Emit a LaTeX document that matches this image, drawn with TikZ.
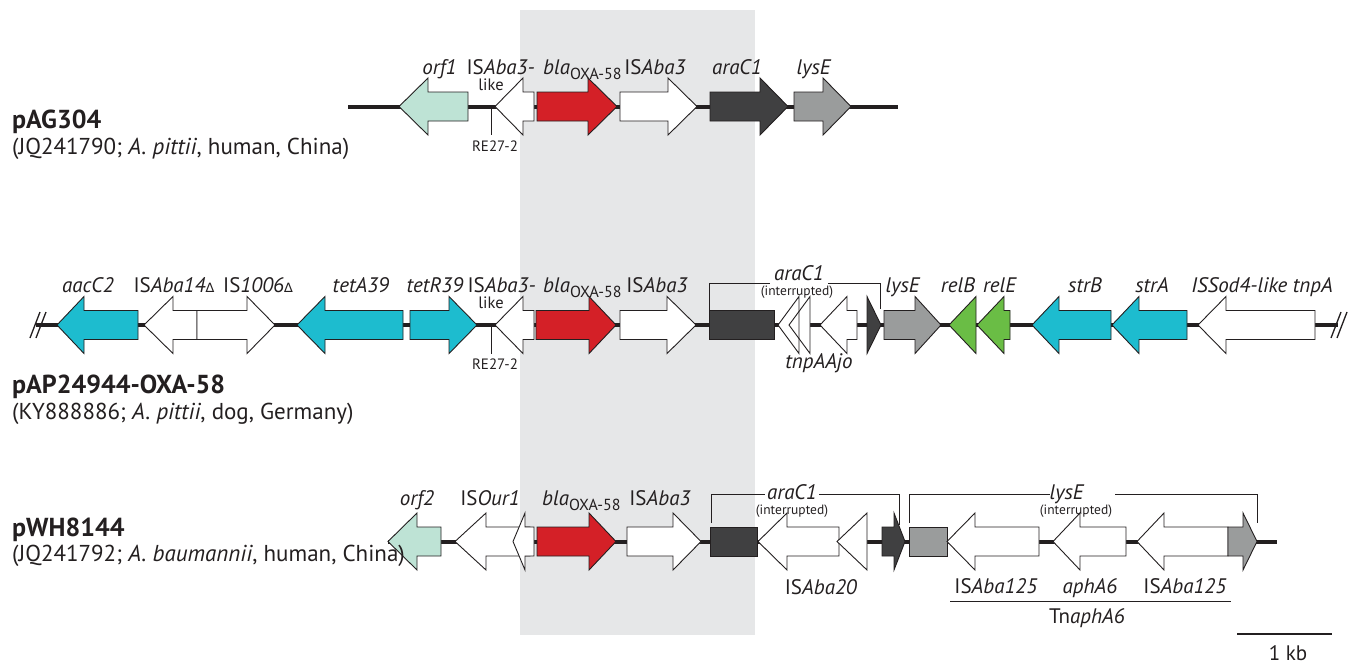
\documentclass[tikz,border=0pt]{standalone}
\usepackage{fontspec}
\setmainfont{PT Sans}
\newfontfamily\deltafont{DejaVu Sans}
\definecolor{ink}{HTML}{231F20}
\definecolor{band}{HTML}{E6E7E8}
\definecolor{mint}{HTML}{BEE3D5}
\definecolor{oxared}{HTML}{D42027}
\definecolor{darkgene}{HTML}{404041}
\definecolor{greygene}{HTML}{9A9C9C}
\definecolor{cyangene}{HTML}{1DBCCF}
\definecolor{greengene}{HTML}{6ABD45}

% gene drawn as a block arrow: fill, tail x, head-base x, tip x, axis y
\newcommand\geneshape[5]{%
  \filldraw[gene, fill=#1] (#2,#5-14.5) -- (#3,#5-14.5) -- (#3,#5-28.5) -- (#4,#5)
    -- (#3,#5+28.5) -- (#3,#5+14.5) -- (#2,#5+14.5) -- cycle;}
% arrow head only: fill, base x, tip x, axis y
\newcommand\headshape[4]{%
  \filldraw[gene, fill=#1] (#2,#4-28.5) -- (#3,#4) -- (#2,#4+28.5) -- cycle;}
% gene fragment without direction: fill, left x, right x, axis y
\newcommand\boxshape[4]{%
  \filldraw[gene, fill=#1] (#2,#4-14.5) rectangle (#3,#4+14.5);}
\newcommand\blaoxa{\textit{bla}\raisebox{-5pt}{\fontsize{16}{18}\selectfont OXA-58}}
\newcommand\dlt{{\deltafont\fontsize{13}{15}\selectfont ∆}}

\tikzset{
  backbone/.style={draw=ink, line width=4pt},
  gene/.style={draw=ink, line width=0.9pt, line join=miter},
  thinline/.style={draw=ink, line width=1pt},
  glab/.style={font=\fontsize{21}{24}\selectfont, text=ink, inner sep=0pt, anchor=base},
  smalllab/.style={font=\fontsize{15}{17}\selectfont, text=ink, inner sep=0pt, anchor=base},
  likelab/.style={font=\fontsize{16.5}{19}\selectfont, text=ink, inner sep=0pt, anchor=base},
  tinylab/.style={font=\fontsize{13.5}{16}\selectfont, text=ink, inner sep=0pt, anchor=base},
  pname/.style={font=\fontsize{26}{30}\selectfont\bfseries, text=ink, inner sep=0pt, anchor=base west},
  pinfo/.style={font=\fontsize{23}{27}\selectfont, text=ink, inner sep=0pt, anchor=base west},
}

\begin{document}
\begin{tikzpicture}[x=1pt, y=-1pt]
\useasboundingbox (0,0) rectangle (1360,664);

% shared blaOXA-58 region
\fill[band] (520,10) rectangle (755,635);

% ---------------- pAG304 ----------------
\draw[backbone] (348,106.5) -- (898,106.5);
\geneshape{mint}{468}{428}{399}{106.5}
\geneshape{white}{534}{523}{495}{106.5}
\geneshape{oxared}{537}{588}{617}{106.5}
\geneshape{white}{620}{668}{697}{106.5}
\geneshape{darkgene}{710}{760}{788}{106.5}
\geneshape{greygene}{794}{823}{851}{106.5}
\draw[thinline] (491,106.5) -- (491,135);

\node[glab] (a1) at (439.5,74) {\textit{orf1}};
\node[glab, anchor=base east] (a2) at (535,74) {IS\textit{Aba3-}};
\node[likelab] (a3) at (491,90) {like};
\node[glab, anchor=base west] (a4) at (543,74) {\blaoxa};
\node[glab] (a5) at (655,74) {IS\textit{Aba3}};
\node[glab] (a6) at (737,74) {\textit{araC1}};
\node[glab] (a7) at (814,74) {\textit{lysE}};
\node[smalllab] (a8) at (495,151) {RE27-2};

\node[pname] (p1) at (12,128) {pAG304};
\node[pinfo] (i1) at (12,154) {(JQ241790; \textit{A. pittii}, human, China)};

% ---------------- pAP24944-OXA-58 ----------------
\draw[backbone] (36,325) -- (1338,325);
\draw[thinline, line width=1.3pt] (30,338) -- (40,312) (36,338) -- (46,312);
\draw[thinline, line width=1.3pt] (1331,338) -- (1341,312) (1337,338) -- (1347,312);
\geneshape{cyangene}{138}{84}{57}{325}
\geneshape{white}{197}{173}{144}{325}
\geneshape{white}{197}{247}{275}{325}
\geneshape{cyangene}{403}{325}{297}{325}
\geneshape{cyangene}{410}{449}{477}{325}
\geneshape{white}{534}{523}{495}{325}
\geneshape{oxared}{536}{589}{616}{325}
\geneshape{white}{620}{667}{696}{325}
\boxshape{darkgene}{709}{774}{325}
\fill[white] (799,296.5) -- (778,325) -- (799,353.5) -- cycle;
\fill[white] (810,296.5) -- (789,325) -- (810,353.5) -- cycle;
\draw[gene] (799,296.5) -- (778,325) -- (799,353.5) -- cycle;
\draw[gene] (810,296.5) -- (789,325) -- (810,353.5) -- cycle;
\geneshape{white}{857}{847}{820}{325}
\headshape{darkgene}{867}{881}{325}
\geneshape{greygene}{884}{915}{941}{325}
\headshape{greengene}{976}{949}{325}
\geneshape{greengene}{1010}{1004}{977}{325}
\geneshape{cyangene}{1111}{1059}{1032}{325}
\geneshape{cyangene}{1187}{1139}{1112}{325}
\geneshape{white}{1315}{1226}{1198}{325}
\draw[thinline] (491,325) -- (491,354);
\draw[thinline] (709,310.5) -- (709,283) -- (770,283);
\draw[thinline] (828,283) -- (880,283) -- (880,309);

\node[glab] (b1) at (88,292) {\textit{aacC2}};
\node[glab] (b2) at (174,292) {IS\textit{Aba14}\dlt};
\node[glab] (b3) at (258,292) {IS\textit{1006}\dlt};
\node[glab] (b4) at (361,292) {\textit{tetA39}};
\node[glab] (b5) at (435,292) {\textit{tetR39}};
\node[glab, anchor=base east] (b6) at (536,292) {IS\textit{Aba3-}};
\node[likelab] (b7) at (491,308) {like};
\node[glab, anchor=base west] (b8) at (543,292) {\blaoxa};
\node[glab] (b9) at (657,292) {IS\textit{Aba3}};
\node[glab] (b10) at (799,280) {\textit{araC1}};
\node[tinylab] (b11) at (797,295) {(interrupted)};
\node[glab] (b12) at (819,368) {\textit{tnpAAjo}};
\node[glab] (b13) at (903,292) {\textit{lysE}};
\node[glab] (b14) at (958,292) {\textit{relB}};
\node[glab] (b15) at (1000,292) {\textit{relE}};
\node[glab] (b16) at (1085,292) {\textit{strB}};
\node[glab] (b17) at (1152,292) {\textit{strA}};
\node[glab] (b18) at (1262,292) {\textit{ISSod4-like tnpA}};
\node[smalllab] (b19) at (495,369) {RE27-2};

\node[pname] (p2) at (12,393) {pAP24944-OXA-58};
\node[pinfo] (i2) at (12,419) {(KY888886; \textit{A. pittii}, dog, Germany)};

% ---------------- pWH8144 ----------------
\draw[backbone] (388,541.5) -- (1277,541.5);
\geneshape{mint}{441}{417}{388}{541.5}
\geneshape{white}{530}{486}{455}{541.5}
\geneshape{white}{534}{525}{513}{541.5}
\geneshape{oxared}{537}{589}{616}{541.5}
\geneshape{white}{627}{673}{701}{541.5}
\boxshape{darkgene}{710}{757}{541.5}
\geneshape{white}{839}{787}{758}{541.5}
\headshape{white}{867}{837}{541.5}
\geneshape{darkgene}{882}{894}{905}{541.5}
\boxshape{greygene}{909}{947}{541.5}
\geneshape{white}{1039}{975}{947}{541.5}
\geneshape{white}{1126}{1080}{1053}{541.5}
\geneshape{white}{1228}{1164}{1137}{541.5}
\geneshape{greygene}{1228}{1243}{1257}{541.5}
\draw[thinline] (711,523) -- (711,494) -- (765,494);
\draw[thinline] (819,494) -- (899,494) -- (899,525);
\draw[thinline] (909,523) -- (909,494) -- (1050,494);
\draw[thinline] (1115,494) -- (1257,494) -- (1257,523);
\draw[thinline] (950,601) -- (1231,601);

\node[glab] (c1) at (417,505) {\textit{orf2}};
\node[glab] (c2) at (490,505) {IS\textit{Our1}};
\node[glab, anchor=base west] (c3) at (542,505) {\blaoxa};
\node[glab] (c4) at (660,505) {IS\textit{Aba3}};
\node[glab] (c5) at (792,499) {\textit{araC1}};
\node[tinylab] (c6) at (792,514) {(interrupted)};
\node[glab] (c7) at (1067,499) {\textit{lysE}};
\node[tinylab] (c8) at (1076,514) {(interrupted)};
\node[glab] (c9) at (821,594) {IS\textit{Aba20}};
\node[glab] (c10) at (996,593) {IS\textit{Aba125}};
\node[glab] (c11) at (1090,593) {\textit{aphA6}};
\node[glab] (c12) at (1185,593) {IS\textit{Aba125}};
\node[glab] (c13) at (1087,623) {Tn\textit{aphA6}};

\node[pname] (p3) at (12,536) {pWH8144};
\node[pinfo] (i3) at (12,561) {(JQ241792; \textit{A. baumannii}, human, China)};

% scale bar
\draw[thinline, line width=2pt] (1237,634) -- (1332,634);
\node[glab] (sb) at (1288,660) {1 kb};
\end{tikzpicture}
\end{document}
